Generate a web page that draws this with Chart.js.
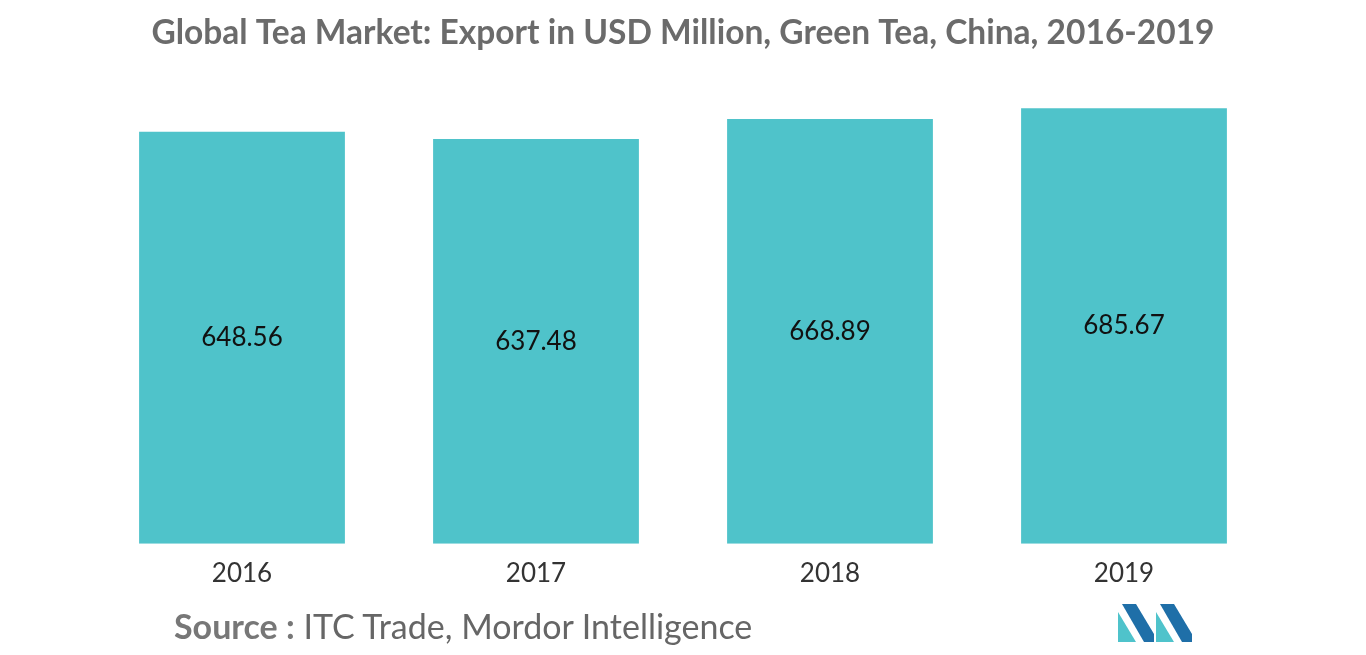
<!DOCTYPE html>
<html>
<head>
<meta charset="utf-8">
<script src="https://cdn.jsdelivr.net/npm/chart.js@4/dist/chart.umd.min.js"></script>
<style>
  body { margin: 0; background: #fff; font-family: Lato, sans-serif; }
  #wrap { position: relative; width: 1366px; height: 655px; }
  #source { position: absolute; left: 174px; top: 605px; font-size: 34px; color: #666; }
  #source b { color: #777; }
  #logo { position: absolute; left: 1118px; top: 604px; }
</style>
</head>
<body>
<div id="wrap">
  <canvas id="myChart" width="1366" height="655"></canvas>
  <div id="source"><b>Source :</b> ITC Trade, Mordor Intelligence</div>
  <svg id="logo" width="74" height="38" viewBox="0 0 74 38">
    <polygon points="0,38 0,8 18,38" fill="#4fc3cb"/>
    <polygon points="4,0 18,0 36,30 36,38 26,38" fill="#1f6fa8"/>
    <polygon points="38,38 38,8 56,38" fill="#4fc3cb"/>
    <polygon points="42,0 56,0 74,30 74,38 64,38" fill="#1f6fa8"/>
  </svg>
</div>
<script>
const years = ['2016', '2017', '2018', '2019'];
const exportValues = [648.56, 637.48, 668.89, 685.67];
const valueLabels = ['648.56', '637.48', '668.89', '685.67'];

const centerLabels = {
  id: 'centerLabels',
  afterDatasetsDraw(chart) {
    const ctx = chart.ctx;
    const yScale = chart.scales.y;
    ctx.save();
    ctx.font = '26px Lato';
    ctx.fillStyle = '#111';
    ctx.textAlign = 'center';
    ctx.textBaseline = 'middle';
    chart.getDatasetMeta(0).data.forEach((bar, i) => {
      ctx.fillText(valueLabels[i], bar.x, (bar.y + yScale.getPixelForValue(0)) / 2);
    });
    ctx.restore();
  }
};

new Chart(document.getElementById('myChart'), {
  type: 'bar',
  data: {
    labels: years,
    datasets: [{
      data: exportValues,
      backgroundColor: '#4fc3ca',
      barPercentage: 0.7,
      categoryPercentage: 1
    }]
  },
  options: {
    responsive: false,
    animation: false,
    layout: { padding: { left: 95, right: 95, top: 0, bottom: 60 } },
    plugins: {
      legend: { display: false },
      tooltip: { enabled: false },
      title: {
        display: true,
        text: 'Global Tea Market: Export in USD Million, Green Tea, China, 2016-2019',
        font: { family: 'Lato', size: 33.5, weight: 'bold' },
        color: '#6b6b6b',
        padding: { top: 13, bottom: 46 }
      }
    },
    scales: {
      x: {
        grid: { display: false },
        border: { display: false },
        ticks: { font: { family: 'Lato', size: 26 }, color: '#333', padding: 6 }
      },
      y: { display: false, min: 0, max: 700 }
    }
  },
  plugins: [centerLabels]
});
</script>
</body>
</html>
